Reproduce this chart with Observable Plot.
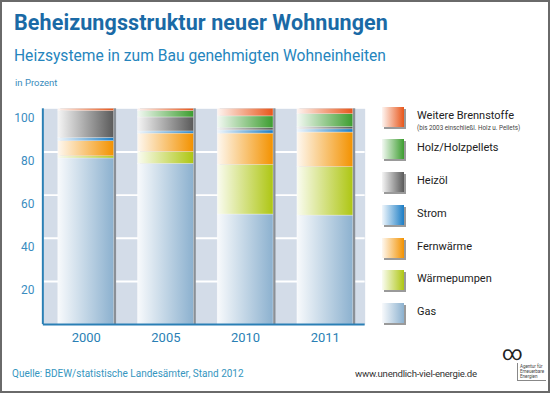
<!DOCTYPE html>
<html><head><meta charset="utf-8">
<script src="https://cdn.jsdelivr.net/npm/d3@7"></script>
<script src="https://cdn.jsdelivr.net/npm/@observablehq/plot@0.6"></script>
<style>
body{margin:0;background:#fff;font-family:Roboto,"DejaVu Sans",sans-serif;}
#card{position:relative;width:550px;height:393px;box-sizing:border-box;border:2px solid #6a6a6a;background:#fff;overflow:hidden;}
#card > *{position:absolute;}
.t{white-space:nowrap;}
#plot{left:-2px;top:-2px;}
.sw{width:22px;height:20px;box-shadow:2px 2px 0 #9a9a9a;}
.lab{font-size:11px;color:#222;}
</style></head>
<body>
<div id="card">
  <div id="plot"></div>
  <div class="t" style="left:12px;top:8px;font-size:21.5px;font-weight:700;color:#1a6aa6;letter-spacing:0.1px">Beheizungsstruktur neuer Wohnungen</div>
  <div class="t" style="left:12px;top:45px;font-size:15.6px;color:#2585bd">Heizsysteme in zum Bau genehmigten Wohneinheiten</div>
  <div class="t" style="left:13px;top:75px;font-size:9.5px;color:#3a8cbc">in Prozent</div>
  <div id="legend"></div>
  <div class="t" style="left:10px;top:366px;font-size:10px;color:#3596c0">Quelle: BDEW/statistische Landesämter, Stand 2012</div>
  <div class="t" style="left:353px;top:366px;font-size:9.6px;letter-spacing:-0.25px;color:#333">www.unendlich-viel-energie.de</div>
  <div class="t" style="left:500px;top:341px;font-size:20px;line-height:20px;color:#222">∞</div>
  <div class="t" style="left:515px;top:361px;font-size:4.5px;line-height:5px;color:#444;border-left:1px solid #888;border-bottom:1px solid #888;padding:1px 2px">Agentur für<br>Erneuerbare<br>Energien</div>
</div>
<script>
const years = ["2000", "2005", "2010", "2011"];
const series = ["Gas", "Wärmepumpen", "Fernwärme", "Strom", "Heizöl", "Holz/Holzpellets", "Weitere Brennstoffe"];
const gas = [77, 74.5, 51, 50.5];
const waermepumpen = [1, 5.5, 23, 22.5];
const fernwaerme = [7, 8.5, 14.5, 16];
const strom = [1.5, 1, 1.5, 1.5];
const heizoel = [12.5, 6.5, 1, 1];
const holz = [0, 3, 5.5, 6];
const weitere = [1, 1, 3.5, 2.5];
const yTicks = [20, 40, 60, 80, 100];
const colors = ["#8cb1cf", "#aec613", "#f39200", "#1b7dc5", "#5a5a5a", "#3c9d2f", "#e8561a"];
const legendOrder = ["Weitere Brennstoffe", "Holz/Holzpellets", "Heizöl", "Strom", "Fernwärme", "Wärmepumpen", "Gas"];
const legendNote = "(bis 2003 einschließl. Holz u. Pellets)";

const values = [gas, waermepumpen, fernwaerme, strom, heizoel, holz, weitere];
const data = [];
series.forEach((s, i) => years.forEach((y, j) => data.push({year: y, series: s, value: values[i][j]})));
const totals = years.map((y, j) => ({year: y, total: d3.sum(values, v => v[j])}));

function light(c) { return d3.interpolateRgb("#ffffff", c)(0.06); }

const svg = Plot.plot({
  width: 550, height: 393,
  marginLeft: 43, marginRight: 184, marginTop: 108.7, marginBottom: 67.7,
  style: {background: "transparent", fontFamily: "Roboto, sans-serif"},
  x: {domain: years, paddingInner: 0.3, paddingOuter: 0.15, insetLeft: 2.5, label: null},
  y: {domain: [0, 100], label: null},
  color: {domain: series, range: series.map((d, i) => `url(#g${i})`)},
  marks: [
    Plot.frame({fill: "#d3dce8"}),
    Plot.ruleY([20, 40, 60, 80], {stroke: "white", strokeWidth: 2}),
    Plot.barY(totals, {x: "year", y: "total", fill: "#8a9097", dx: 2.5}),
    Plot.barY(data, {x: "year", y: "value", fill: "series", stroke: "#ffffff", strokeOpacity: 0.55, strokeWidth: 0.6}),
    Plot.ruleY([0], {stroke: "#2a7fb5", strokeWidth: 2}),
    Plot.axisY(yTicks, {tickSize: 0, tickPadding: 9, dy: 9, fontSize: 12, color: "#3a8cc0"}),
    Plot.axisX({tickSize: 0, tickPadding: 8, fontSize: 13, color: "#2a7fb5"})
  ]
});
const s = d3.select(svg);
const defs = s.insert("defs", ":first-child");
colors.forEach((c, i) => {
  const g = defs.append("linearGradient").attr("id", `g${i}`).attr("x1", "0").attr("x2", "1").attr("y1", "0").attr("y2", "0");
  g.append("stop").attr("offset", "0%").attr("stop-color", light(c));
  g.append("stop").attr("offset", "100%").attr("stop-color", c);
});
// left axis line
s.append("line").attr("x1", 43).attr("x2", 43).attr("y1", 108.7).attr("y2", 393 - 67.7).attr("stroke", "#2a7fb5").attr("stroke-width", 2);
document.getElementById("plot").appendChild(svg);

// legend
const legend = document.getElementById("legend");
legend.style.left = "0px"; legend.style.top = "0px";
legendOrder.forEach((name, k) => {
  const i = series.indexOf(name);
  const top = 104.7 + k * 32.7;
  const sw = document.createElement("div");
  sw.className = "sw";
  sw.style.position = "absolute";
  sw.style.left = "380px"; sw.style.top = top + "px";
  sw.style.background = `linear-gradient(to right, ${light(colors[i])}, ${colors[i]})`;
  legend.appendChild(sw);
  const lab = document.createElement("div");
  lab.className = "t lab";
  lab.style.position = "absolute";
  lab.style.left = "415px"; lab.style.top = (top + 2) + "px";
  lab.textContent = name;
  legend.appendChild(lab);
  if (k === 0) {
    const n = document.createElement("div");
    n.className = "t";
    n.style.cssText = "position:absolute;left:415px;font-size:6.3px;color:#444;";
    n.style.top = (top + 17) + "px";
    n.textContent = legendNote;
    legend.appendChild(n);
  }
});
</script>
</body></html>
